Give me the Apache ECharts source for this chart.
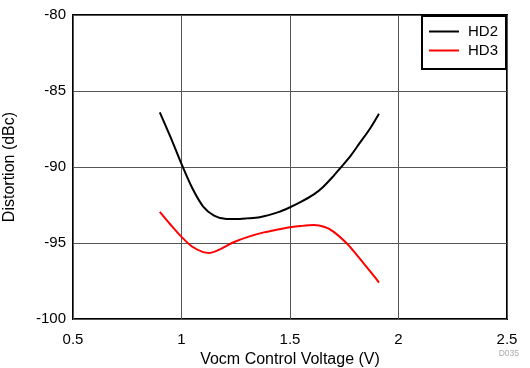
<!DOCTYPE html>
<html>
<head>
<meta charset="utf-8">
<script src="https://cdn.jsdelivr.net/npm/echarts@6/dist/echarts.min.js"></script>
<style>
  html, body { margin: 0; padding: 0; background: #fff; }
  #main { width: 530px; height: 368px; }
</style>
</head>
<body>
<div id="main"></div>
<script>
// HD2 / HD3 distortion vs Vocm
var hd2 = [
    [0.90, -86.4], [0.95, -88.05], [1.00, -89.8], [1.05, -91.4], [1.10, -92.6],
    [1.15, -93.2], [1.20, -93.4], [1.25, -93.42], [1.30, -93.38], [1.36, -93.3],
    [1.45, -92.95], [1.50, -92.65], [1.55, -92.3], [1.61, -91.8], [1.65, -91.35],
    [1.70, -90.6], [1.73, -90.1], [1.78, -89.25], [1.82, -88.45], [1.87, -87.45],
    [1.91, -86.5]
];
var hd3 = [
    [0.90, -92.95], [0.95, -93.8], [1.00, -94.6], [1.05, -95.25], [1.10, -95.6],
    [1.13, -95.65], [1.18, -95.4], [1.24, -94.95], [1.31, -94.58], [1.38, -94.3],
    [1.45, -94.1], [1.50, -93.97], [1.55, -93.88], [1.61, -93.82], [1.66, -93.95],
    [1.70, -94.25], [1.76, -95.0], [1.80, -95.65], [1.84, -96.35], [1.88, -97.05],
    [1.91, -97.6]
];
var seriesNames = ['HD2', 'HD3'];

var myChart = echarts.init(document.getElementById('main'));
var font = '"Liberation Sans", Arial, sans-serif';

var option = {
    animation: false,
    textStyle: { fontFamily: font },
    grid: {
        left: 73, top: 15, right: 23, bottom: 49,
        outerBoundsMode: 'none',
        containLabel: false,
        show: true,
        borderColor: '#000',
        borderWidth: 2
    },
    legend: {
        data: seriesNames,
        orient: 'vertical',
        right: 24,
        top: 16,
        icon: 'rect',
        itemWidth: 30,
        itemHeight: 2,
        itemGap: 4,
        padding: [8, 8, 11, 7],
        backgroundColor: '#fff',
        borderColor: '#000',
        borderWidth: 2,
        textStyle: { fontFamily: font, fontSize: 15, color: '#000', padding: [0, 0, 0, 4] }
    },
    xAxis: {
        type: 'value',
        min: 0.5,
        max: 2.5,
        interval: 0.5,
        name: 'Vocm Control Voltage (V)',
        nameLocation: 'middle',
        nameGap: 26,
        nameTextStyle: { fontFamily: font, fontSize: 16, color: '#000' },
        axisLine: { show: false },
        axisTick: { show: false },
        axisLabel: { fontFamily: font, fontSize: 15, color: '#000', margin: 13 },
        splitLine: { lineStyle: { color: '#555', width: 1 } }
    },
    yAxis: {
        type: 'value',
        min: -100,
        max: -80,
        interval: 5,
        name: 'Distortion (dBc)',
        nameLocation: 'middle',
        nameGap: 55,
        nameTextStyle: { fontFamily: font, fontSize: 16, color: '#000' },
        axisLine: { show: false },
        axisTick: { show: false },
        axisLabel: { fontFamily: font, fontSize: 15, color: '#000', margin: 7 },
        splitLine: { lineStyle: { color: '#555', width: 1 } }
    },
    series: [
        {
            name: 'HD2',
            type: 'line',
            smooth: 0.3,
            showSymbol: false,
            data: hd2,
            itemStyle: { color: '#000' },
            lineStyle: { color: '#000', width: 2 }
        },
        {
            name: 'HD3',
            type: 'line',
            smooth: 0.3,
            showSymbol: false,
            data: hd3,
            itemStyle: { color: '#ff0000' },
            lineStyle: { color: '#ff0000', width: 2 }
        }
    ],
    graphic: [
        {
            type: 'text',
            right: 11,
            bottom: 10,
            style: { text: 'D035', fill: '#aaa', font: '8.5px ' + font }
        }
    ]
};
myChart.setOption(option);
</script>
</body>
</html>
